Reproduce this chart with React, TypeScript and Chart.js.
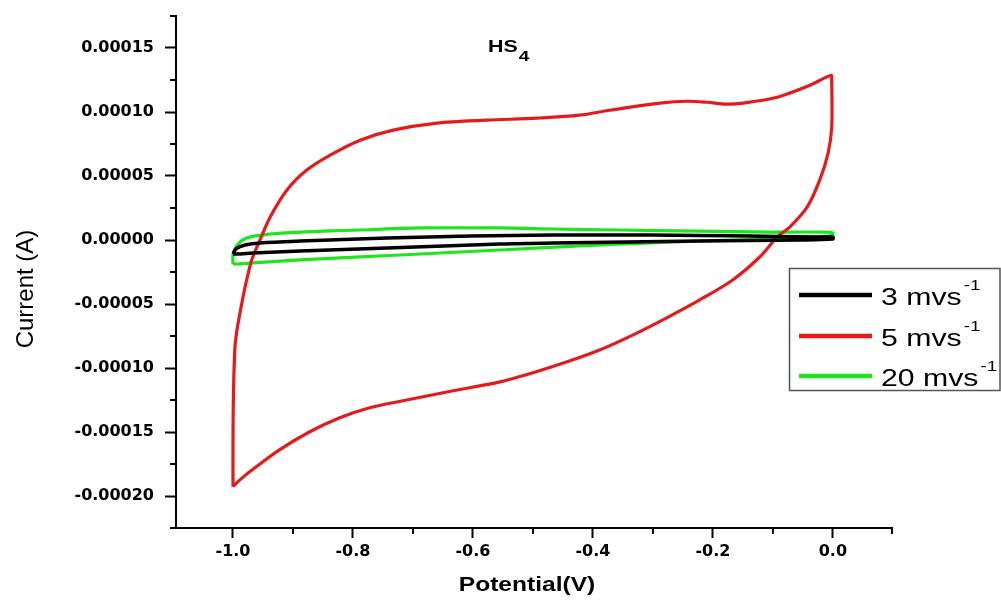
import React, { useEffect, useRef } from "react";
import { Chart, registerables } from "chart.js";

Chart.register(...registerables);

// ---- Data (Potential in V, Current in A) ----
const seriesLabels = ["3 mvs", "5 mvs", "20 mvs"];
const seriesColors = ["#000000", "#e41b1b", "#1ee61e"];

const potential3 = [-1.0, -0.995, -0.98, -0.955, -0.888, -0.743, -0.605, -0.467, -0.305, -0.138, -0.038, 0.0, 0.0, -0.055, -0.222, -0.467, -0.555, -0.743, -0.888, -0.967, -0.988, -1.0];
const current3 = [-1.09e-5, -0.7e-5, -0.39e-5, -0.23e-5, -0.08e-5, 0.16e-5, 0.31e-5, 0.39e-5, 0.39e-5, 0.31e-5, 0.23e-5, 0.23e-5, 0.08e-5, 0.0, -0.08e-5, -0.23e-5, -0.31e-5, -0.62e-5, -0.86e-5, -1.01e-5, -1.09e-5, -1.09e-5];

const potential5 = [-1.0, -1.0, -0.9997, -0.9987, -0.9967, -0.9933, -0.9883, -0.9833, -0.9772, -0.9688, -0.955, -0.938, -0.91, -0.877, -0.838, -0.788, -0.733, -0.66, -0.577, -0.493, -0.422, -0.372, -0.288, -0.243, -0.21, -0.177, -0.15, -0.093, -0.038, -0.003, -0.002, -0.002, -0.008, -0.022, -0.043, -0.072, -0.093, -0.122, -0.167, -0.222, -0.277, -0.333, -0.388, -0.443, -0.5, -0.555, -0.633, -0.717, -0.772, -0.822, -0.872, -0.922, -0.963, -0.988, -1.0];
const current5 = [-19.27e-5, -16.38e-5, -13.49e-5, -10.92e-5, -8.35e-5, -7.02e-5, -5.69e-5, -4.45e-5, -3.12e-5, -1.56e-5, 0.0, 1.79e-5, 3.9e-5, 5.46e-5, 6.63e-5, 7.8e-5, 8.58e-5, 9.13e-5, 9.36e-5, 9.52e-5, 9.75e-5, 10.14e-5, 10.69e-5, 10.84e-5, 10.76e-5, 10.61e-5, 10.69e-5, 11.15e-5, 12.09e-5, 12.87e-5, 12.48e-5, 8.81e-5, 6.79e-5, 4.68e-5, 2.57e-5, 1.01e-5, 0.23e-5, -1.33e-5, -3.12e-5, -4.68e-5, -6.08e-5, -7.41e-5, -8.58e-5, -9.52e-5, -10.37e-5, -11.08e-5, -11.78e-5, -12.56e-5, -13.1e-5, -13.88e-5, -14.98e-5, -16.38e-5, -17.78e-5, -18.72e-5, -19.27e-5];

const potential20 = [-1.0, -1.0, -0.993, -0.977, -0.938, -0.888, -0.788, -0.688, -0.555, -0.467, -0.355, -0.222, -0.105, -0.022, 0.0, -0.005, -0.055, -0.11, -0.222, -0.388, -0.555, -0.722, -0.888, -0.967, -0.988, -1.0];
const current20 = [-1.87e-5, -1.17e-5, -0.39e-5, 0.16e-5, 0.47e-5, 0.62e-5, 0.78e-5, 0.94e-5, 0.94e-5, 0.86e-5, 0.78e-5, 0.7e-5, 0.62e-5, 0.62e-5, 0.55e-5, 0.31e-5, 0.23e-5, 0.08e-5, -0.08e-5, -0.39e-5, -0.78e-5, -1.17e-5, -1.56e-5, -1.79e-5, -1.87e-5, -1.87e-5];

// ---- Axis ticks ----
const xTickValues = [-1.0, -0.8, -0.6, -0.4, -0.2, 0.0];
const xTickLabels = ["-1.0", "-0.8", "-0.6", "-0.4", "-0.2", "0.0"];
const xMinorTicks = [-0.9, -0.7, -0.5, -0.3, -0.1, 0.0985];
const yTickValues = [0.00015, 0.0001, 0.00005, 0.0, -0.00005, -0.0001, -0.00015, -0.0002];
const yTickLabels = ["0.00015", "0.00010", "0.00005", "0.00000", "-0.00005", "-0.00010", "-0.00015", "-0.00020"];
const yMinorTicks = [0.000175, 0.000125, 0.000075, 0.000025, -0.000025, -0.000075, -0.000125, -0.000175, -0.000225];

const toPoints = (xs: number[], ys: number[]) => xs.map((x, i) => ({ x, y: ys[i] }));

const SX = 1.26; // horizontal stretch of the reference text

function stretchedText(ctx: CanvasRenderingContext2D, text: string, x: number, y: number, font: string, align: CanvasTextAlign = "left") {
  ctx.save();
  ctx.font = font;
  ctx.textAlign = align;
  ctx.textBaseline = "alphabetic";
  ctx.translate(x, y);
  ctx.scale(SX, 1);
  ctx.fillText(text, 0, 0);
  const w = ctx.measureText(text).width * SX;
  ctx.restore();
  return w;
}

const decorPlugin = {
  id: "decor",
  afterDraw(chart: any) {
    const ctx: CanvasRenderingContext2D = chart.ctx;
    const xs = chart.scales.x;
    const ys = chart.scales.y;
    const area = chart.chartArea;
    ctx.save();
    ctx.strokeStyle = "#000";
    ctx.lineWidth = 2;
    // minor ticks
    xMinorTicks.forEach((v) => {
      const px = xs.getPixelForValue(v);
      ctx.beginPath();
      ctx.moveTo(px, area.bottom);
      ctx.lineTo(px, area.bottom + 6);
      ctx.stroke();
    });
    yMinorTicks.forEach((v) => {
      const py = ys.getPixelForValue(v);
      ctx.beginPath();
      ctx.moveTo(area.left - 6, py);
      ctx.lineTo(area.left, py);
      ctx.stroke();
    });

    ctx.fillStyle = "#000";
    // title HS4
    const w = stretchedText(ctx, "HS", 488, 52, "bold 17px 'Liberation Sans'");
    stretchedText(ctx, "4", 488 + w + 1, 61, "bold 15px 'Liberation Sans'");

    // x axis title
    stretchedText(ctx, "Potential(V)", 527, 591, "bold 19.5px 'Liberation Sans'", "center");

    // y axis title
    ctx.save();
    ctx.translate(33, 289);
    ctx.rotate(-Math.PI / 2);
    ctx.font = "24px 'Liberation Sans'";
    ctx.textAlign = "center";
    ctx.textBaseline = "alphabetic";
    ctx.fillText("Current (A)", 0, 0);
    ctx.restore();

    // legend
    ctx.lineWidth = 1.5;
    ctx.strokeStyle = "#555";
    ctx.fillStyle = "#fff";
    ctx.fillRect(789, 268, 212, 123);
    ctx.strokeRect(789.5, 268.5, 210.5, 122);
    const rows = [295, 336, 376];
    chart.data.datasets.forEach((ds: any, i: number) => {
      const y = rows[i];
      ctx.strokeStyle = ds.borderColor;
      ctx.lineWidth = 4.5;
      ctx.beginPath();
      ctx.moveTo(799, y);
      ctx.lineTo(872, y);
      ctx.stroke();
      ctx.fillStyle = "#000";
      const tw = stretchedText(ctx, ds.label, 881, y + 9.5, "24px 'Liberation Sans'");
      stretchedText(ctx, "-1", 881 + tw + 2, y - 5, "15px 'Liberation Sans'");
    });
    ctx.restore();
  },
};

export default function App() {
  const canvasRef = useRef<HTMLCanvasElement | null>(null);

  useEffect(() => {
    if (!canvasRef.current) return;
    const tickFont = { family: "'DejaVu Sans'", weight: "bold" as const, size: 16 };
    const chart = new Chart(canvasRef.current, {
      type: "scatter",
      data: {
        datasets: [
          { label: seriesLabels[0], data: toPoints(potential3, current3), borderColor: seriesColors[0], borderWidth: 3.5 },
          { label: seriesLabels[1], data: toPoints(potential5, current5), borderColor: seriesColors[1], borderWidth: 3.2 },
          { label: seriesLabels[2], data: toPoints(potential20, current20), borderColor: seriesColors[2], borderWidth: 3.2 },
        ].map((d) => ({ ...d, showLine: true, pointRadius: 0, pointHoverRadius: 0, tension: 0.3, fill: false, backgroundColor: d.borderColor })),
      },
      options: {
        responsive: false,
        animation: false,
        devicePixelRatio: 1,
        layout: { padding: { top: 16, right: 109, left: 0, bottom: 0 } },
        plugins: { legend: { display: false }, tooltip: { enabled: false }, title: { display: false } },
        scales: {
          x: {
            type: "linear",
            min: -1.095,
            max: 0.0985,
            afterBuildTicks: (s: any) => { s.ticks = xTickValues.map((value) => ({ value })); },
            afterFit: (s: any) => { s.height = 76; s.paddingLeft = 0; s.paddingRight = 0; },
            grid: { display: true, drawOnChartArea: false, drawTicks: true, tickLength: 10, tickWidth: 2, tickColor: "#000" },
            border: { display: true, color: "#000", width: 2 },
            ticks: { font: tickFont, color: "#000", padding: 4, maxRotation: 0, autoSkip: false, callback: (_v: any, i: number) => xTickLabels[i] },
          },
          y: {
            type: "linear",
            min: -0.000225,
            max: 0.000175,
            afterBuildTicks: (s: any) => { s.ticks = yTickValues.map((value) => ({ value })); },
            afterFit: (s: any) => { s.width = 176; s.paddingTop = 0; s.paddingBottom = 0; },
            grid: { display: true, drawOnChartArea: false, drawTicks: true, tickLength: 11, tickWidth: 2, tickColor: "#000" },
            border: { display: true, color: "#000", width: 2 },
            ticks: { font: tickFont, color: "#000", padding: 11, autoSkip: false, callback: (_v: any, i: number) => yTickLabels[i] },
          },
        },
      },
      plugins: [decorPlugin],
    } as any);
    return () => chart.destroy();
  }, []);

  return (
    <div style={{ position: "fixed", left: 0, top: 0, width: 1001, height: 604, background: "#fff" }}>
      <canvas ref={canvasRef} width={1001} height={604} style={{ display: "block" }} />
    </div>
  );
}
